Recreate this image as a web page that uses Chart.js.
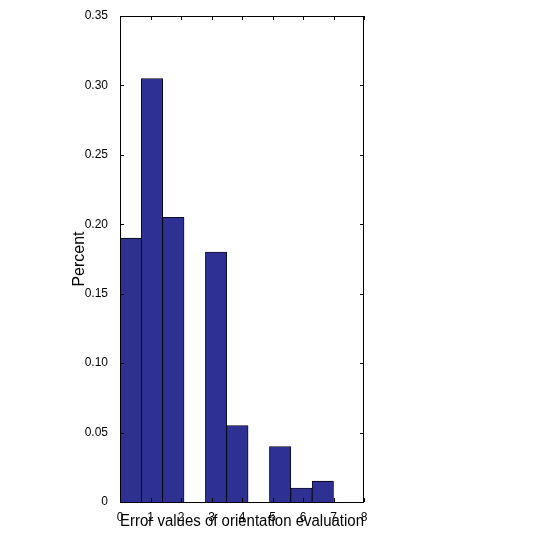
<!DOCTYPE html>
<html><head><meta charset="utf-8">
<script src="https://cdn.jsdelivr.net/npm/chart.js@4"></script>
<style>body{margin:0;background:#fff}canvas{display:block}</style>
</head><body><canvas id="c" width="538" height="551"></canvas>
<script>
const binCenters=[0.35,1.05,1.75,2.45,3.15,3.85,4.55,5.25,5.95,6.65];
const percents=[0.19,0.305,0.205,0,0.18,0.055,0,0.04,0.01,0.015];
const xTicks=[0,1,2,3,4,5,6,7,8];
const yTicks=[0,0.05,0.10,0.15,0.20,0.25,0.30,0.35];
const frame={id:'frame',afterDraw(c){const a=c.chartArea,g=c.ctx;g.save();g.strokeStyle='#000';g.lineWidth=1;g.strokeRect(a.left+0.5,a.top+0.5,a.right-a.left-1,a.bottom-a.top);
g.beginPath();const xs=c.scales.x,ys=c.scales.y;
xTicks.forEach(t=>{const p=Math.round(xs.getPixelForValue(t))+0.5;g.moveTo(p,a.bottom);g.lineTo(p,a.bottom-4);g.moveTo(p,a.top);g.lineTo(p,a.top+4);});
yTicks.forEach(t=>{const p=Math.round(ys.getPixelForValue(t))+0.5;g.moveTo(a.left,p);g.lineTo(a.left+4,p);g.moveTo(a.right,p);g.lineTo(a.right-4,p);});
g.stroke();g.restore();}};
new Chart(document.getElementById('c'),{type:'bar',
data:{datasets:[{data:binCenters.map((x,i)=>({x:x,y:percents[i]})),backgroundColor:'#2e3192',borderColor:'#000',borderWidth:0.8,barPercentage:1,categoryPercentage:1}]},
options:{responsive:false,animation:false,layout:{padding:{left:70,right:174,top:16,bottom:20}},
plugins:{legend:{display:false},tooltip:{enabled:false}},
scales:{
x:{type:'linear',min:0,max:8,offset:false,grid:{display:false},border:{display:false},
ticks:{stepSize:1,color:'#000',font:{family:'Liberation Sans',size:12},padding:0,maxRotation:0},
title:{display:true,text:'Error values of orientation evaluation',color:'#000',font:{family:'Liberation Sans',size:16},padding:{top:0,bottom:0}},
afterFit(s){s.height=29;}},
y:{min:0,max:0.35,grid:{display:false},border:{display:false},
ticks:{stepSize:0.05,color:'#000',font:{family:'Liberation Sans',size:12},padding:4,callback:v=>v===0?'0':v.toFixed(2)},
title:{display:true,text:'Percent',color:'#000',font:{family:'Liberation Sans',size:16},padding:{top:0,bottom:0}},
afterFit(s){s.width=50;}}}},
plugins:[frame]});
</script></body></html>
